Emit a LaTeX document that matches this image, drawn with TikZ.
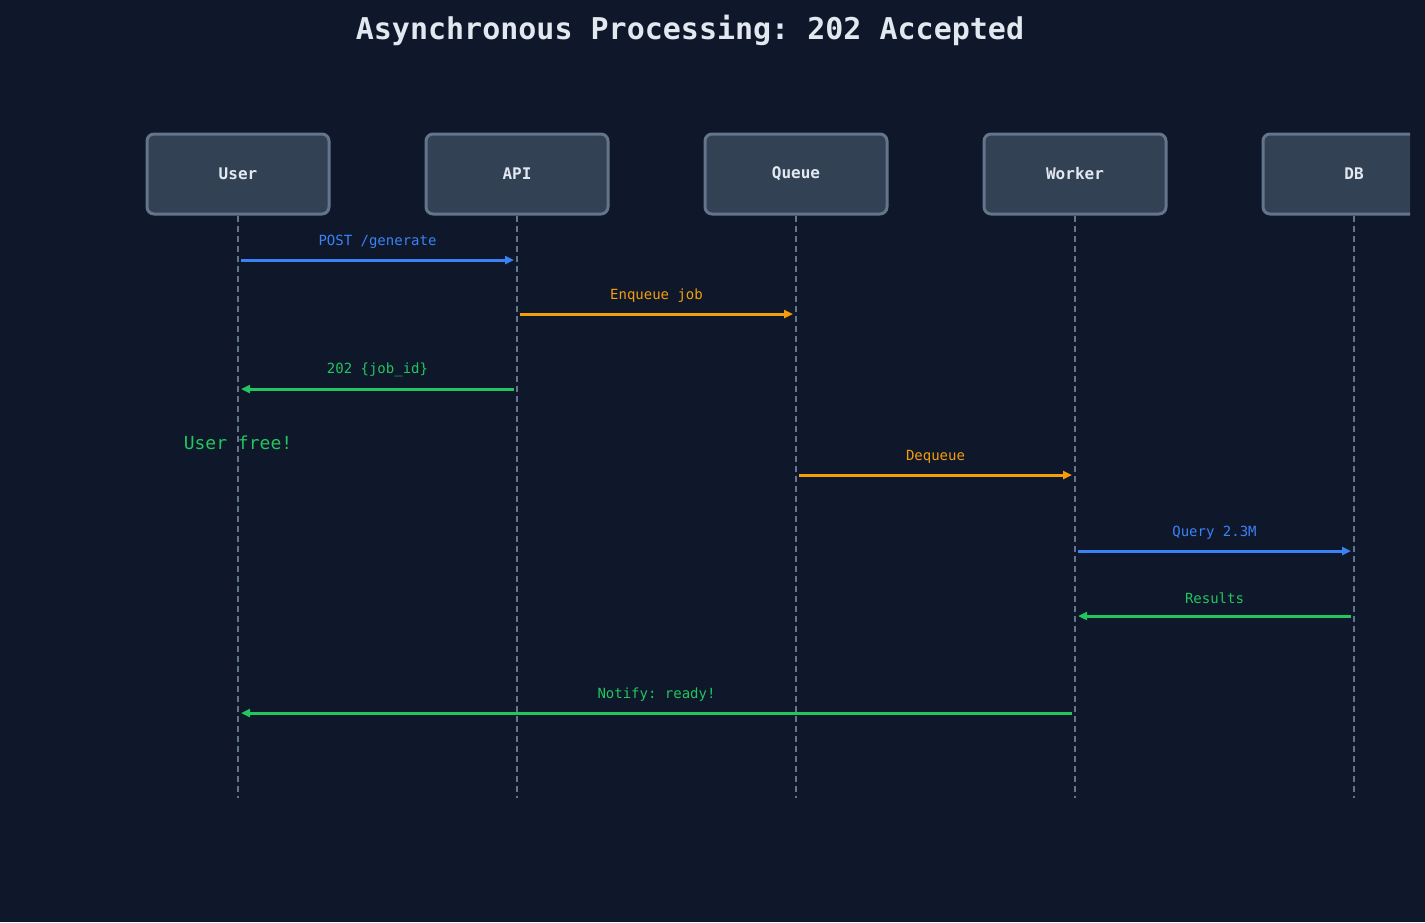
\documentclass[tikz,border=0pt]{standalone}
\usepackage{fontspec}
\setmonofont{DejaVu Sans Mono}
\usetikzlibrary{arrows.meta}
\definecolor{bg_navy}{HTML}{0F172A}
\definecolor{box_fill}{HTML}{334155}
\definecolor{box_edge}{HTML}{64748B}
\definecolor{txt_white}{HTML}{E2E8F0}
\definecolor{msg_blue}{HTML}{3B82F6}
\definecolor{msg_orange}{HTML}{F59E0B}
\definecolor{msg_green}{HTML}{22C55E}

\begin{document}
\begin{tikzpicture}[x=1pt,y=-1pt,font=\ttfamily]
    \tikzstyle{actor}=[draw=box_edge, fill=box_fill, line width=3pt, rounded corners=7pt, minimum width=182pt, minimum height=80pt, text=txt_white, font=\ttfamily\bfseries\fontsize{16}{18}\selectfont]
    \tikzstyle{life}=[draw=box_edge, line width=1.5pt, dash pattern=on 6pt off 4pt]
    \tikzstyle{msg}=[-{Stealth[length=9pt,width=8pt,inset=0pt,line cap=round]}, line width=3pt, shorten >=3pt, shorten <=3pt]
    \tikzstyle{lbl}=[midway, above=7pt, font=\ttfamily\fontsize{14}{16}\selectfont]

    \fill[bg_navy] (0,0) rectangle (1425,922);
    \useasboundingbox (0,0) rectangle (1425,922);

    \node[text=txt_white, font=\ttfamily\bfseries\fontsize{30}{34}\selectfont] (title) at (690,30) {Asynchronous Processing: 202 Accepted};

    \begin{scope}
    \clip (0,0) rectangle (1410,922);
    \foreach \name/\xx/\txt in {user/238/User, api/517/API, queue/796/Queue, worker/1075/Worker, db/1354/DB} {
        \node[actor] (\name) at (\xx,174) {\txt};
        \coordinate (\name end) at (\xx,798);
        \draw[life] (\name.south) -- (\name end);
    }
    \end{scope}

    \foreach \name/\xx in {user/238, api/517, queue/796, worker/1075, db/1354} {
        \foreach \yy in {260,314,389,475,551,616,713}
            \coordinate (\name\yy) at (\xx,\yy);
    }

    \draw[msg, msg_blue] (user260) -- (api260) node[lbl, text=msg_blue] {POST /generate};
    \draw[msg, msg_orange] (api314) -- (queue314) node[lbl, text=msg_orange] {Enqueue job};
    \draw[msg, msg_green] (api389) -- (user389) node[lbl, text=msg_green] {202 \{job\_id\}};
    \node[text=msg_green, font=\ttfamily\fontsize{18}{20}\selectfont] (free) at (238,443) {User free!};
    \draw[msg, msg_orange] (queue475) -- (worker475) node[lbl, text=msg_orange] {Dequeue};
    \draw[msg, msg_blue] (worker551) -- (db551) node[lbl, text=msg_blue] {Query 2.3M};
    \draw[msg, msg_green] (db616) -- (worker616) node[lbl, text=msg_green] {Results};
    \draw[msg, msg_green] (worker713) -- (user713) node[lbl, text=msg_green] {Notify: ready!};
\end{tikzpicture}
\end{document}
